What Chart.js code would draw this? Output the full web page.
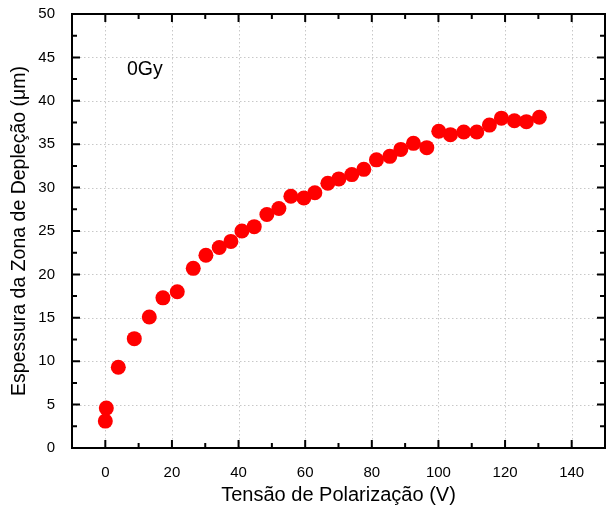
<!DOCTYPE html>
<html>
<head>
<meta charset="utf-8">
<script src="https://cdn.jsdelivr.net/npm/chart.js@4/dist/chart.umd.min.js"></script>
<style>
  html, body { margin: 0; padding: 0; background: #fff; overflow: hidden; }
  #wrap { width: 606px; height: 508px; }
  canvas { display: block; }
</style>
</head>
<body>
<div id="wrap"><canvas id="grafico" width="606" height="508"></canvas></div>
<script>
// Tensão (V) x espessura da zona de depleção (um), amostra 0Gy
const tensao = [0, 0.3, 3.9, 8.7, 13.2, 17.3, 21.6, 26.4, 30.2, 34.2, 37.7, 41.0, 44.7, 48.5,
  52.1, 55.7, 59.6, 62.9, 66.8, 70.1, 74.0, 77.6, 81.4, 85.4, 88.7, 92.5, 96.5, 100.1,
  103.6, 107.6, 111.5, 115.3, 118.9, 122.8, 126.4, 130.3];
const espessura = [3.1, 4.6, 9.3, 12.6, 15.1, 17.3, 18.0, 20.7, 22.2, 23.1, 23.8, 25.0, 25.5, 26.9,
  27.6, 29.0, 28.8, 29.4, 30.5, 31.0, 31.5, 32.1, 33.2, 33.6, 34.4, 35.1, 34.6, 36.5,
  36.1, 36.4, 36.4, 37.2, 38.0, 37.7, 37.6, 38.1];
const ticksX = [0, 20, 40, 60, 80, 100, 120, 140];
const ticksXmenor = [-10, 10, 30, 50, 70, 90, 110, 130, 150];
const ticksY = [0, 5, 10, 15, 20, 25, 30, 35, 40, 45, 50];
const ticksYmenor = [2.5, 7.5, 12.5, 17.5, 22.5, 27.5, 32.5, 37.5, 42.5, 47.5];
const rotulo = '0Gy';

const fonte = "'Liberation Sans', Arial, sans-serif";

// grade pontilhada, moldura e marcas internas
const moldura = {
  id: 'moldura',
  beforeDatasetsDraw(chart) {
    const { ctx, chartArea: a, scales: { x, y } } = chart;
    ctx.save();
    ctx.strokeStyle = '#c8c8c8';
    ctx.lineWidth = 1;
    ctx.setLineDash([1.5, 2.5]);
    ticksX.forEach(v => {
      const px = Math.round(x.getPixelForValue(v)) + 0.5;
      ctx.beginPath(); ctx.moveTo(px, a.top); ctx.lineTo(px, a.bottom); ctx.stroke();
    });
    ticksY.forEach(v => {
      if (v === 0 || v === 50) return;
      const py = Math.round(y.getPixelForValue(v)) + 0.5;
      ctx.beginPath(); ctx.moveTo(a.left, py); ctx.lineTo(a.right, py); ctx.stroke();
    });
    ctx.restore();
  },
  afterDatasetsDraw(chart) {
    const { ctx, chartArea: a, scales: { x, y } } = chart;
    ctx.save();
    ctx.strokeStyle = '#000';
    ctx.lineWidth = 2;
    ctx.strokeRect(a.left, a.top, a.right - a.left, a.bottom - a.top);
    const marca = (lista, len) => {
      lista.forEach(v => {
        const px = x.getPixelForValue(v);
        ctx.beginPath();
        ctx.moveTo(px, a.bottom); ctx.lineTo(px, a.bottom - len);
        ctx.moveTo(px, a.top); ctx.lineTo(px, a.top + len);
        ctx.stroke();
      });
    };
    const marcaY = (lista, len) => {
      lista.forEach(v => {
        const py = y.getPixelForValue(v);
        ctx.beginPath();
        ctx.moveTo(a.left, py); ctx.lineTo(a.left + len, py);
        ctx.moveTo(a.right, py); ctx.lineTo(a.right - len, py);
        ctx.stroke();
      });
    };
    marca(ticksX, 8); marca(ticksXmenor, 5);
    marcaY(ticksY, 8); marcaY(ticksYmenor, 5);
    // rótulo da amostra
    ctx.fillStyle = '#000';
    ctx.font = '19.5px ' + fonte;
    ctx.textBaseline = 'middle';
    ctx.fillText(rotulo, x.getPixelForValue(6.5), y.getPixelForValue(43.6));
    ctx.restore();
  }
};

// sem folga extra calculada pelas escalas
const semFolga = s => { s.paddingTop = 0; s.paddingBottom = 0; s.paddingLeft = 0; s.paddingRight = 0; };

new Chart(document.getElementById('grafico'), {
  type: 'scatter',
  data: {
    datasets: [{
      data: tensao.map((v, i) => ({ x: v, y: espessura[i] })),
      backgroundColor: '#ff0000',
      borderWidth: 0,
      pointRadius: 7.5,
      pointHoverRadius: 7.5
    }]
  },
  options: {
    responsive: false,
    animation: false,
    events: [],
    layout: { autoPadding: false, padding: { left: 4, right: 1, top: 14, bottom: 0 } },
    plugins: { legend: { display: false }, tooltip: { enabled: false } },
    scales: {
      x: {
        type: 'linear',
        min: -10, max: 150,
        afterBuildTicks: s => { s.ticks = ticksX.map(v => ({ value: v })); },
        afterFit: s => { s.height = 60; semFolga(s); },
        grid: { display: false },
        border: { display: false },
        ticks: { color: '#000', font: { family: fonte, size: 15 }, padding: 8 },
        title: {
          display: true, text: 'Tensão de Polarização (V)', color: '#000',
          font: { family: fonte, size: 20 }, padding: { top: 4, bottom: 1 }
        }
      },
      y: {
        type: 'linear',
        min: 0, max: 50,
        afterBuildTicks: s => { s.ticks = ticksY.map(v => ({ value: v })); },
        afterFit: s => { s.width = 68; semFolga(s); },
        grid: { display: false },
        border: { display: false },
        ticks: { color: '#000', font: { family: fonte, size: 15 }, padding: 9 },
        title: {
          display: true, text: 'Espessura da Zona de Depleção (μm)', color: '#000',
          font: { family: fonte, size: 19.5 }, padding: { top: 4, bottom: 4 }
        }
      }
    }
  },
  plugins: [moldura]
});
</script>
</body>
</html>
